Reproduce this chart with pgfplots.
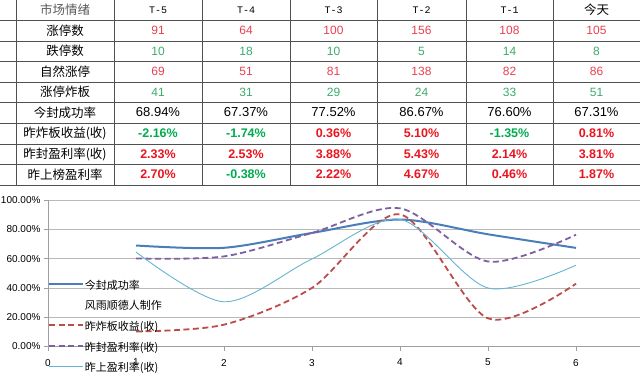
\documentclass[border=0pt]{standalone}
\usepackage{fontspec}
\setmainfont{Liberation Sans}
\newfontfamily\cjk{Noto Sans CJK SC}
\newfontfamily\mono{Liberation Mono}
\usepackage{pgfplots}
\pgfplotsset{compat=1.18}
\definecolor{tred}{RGB}{232,64,80}
\definecolor{tgreen}{RGB}{60,170,110}
\definecolor{bred}{RGB}{235,20,30}
\definecolor{bgreen}{RGB}{0,170,80}
\definecolor{sblue}{RGB}{74,126,187}
\definecolor{sred}{RGB}{190,75,72}
\definecolor{spurple}{RGB}{125,96,160}
\definecolor{saqua}{RGB}{100,180,210}
\definecolor{tline}{RGB}{80,80,80}
\begin{document}
\begin{tikzpicture}[
  lab/.style={font=\cjk\fontsize{12.5}{14}\selectfont},
  hd/.style={font=\mono\fontsize{10}{12}\selectfont},
  num/.style={font=\fontsize{12}{14}\selectfont},
  pct/.style={font=\fontsize{13}{15}\selectfont},
  bp/.style={font=\bfseries\fontsize{12.5}{15}\selectfont}]
\path[use as bounding box] (0pt,0pt) rectangle (640pt,-377pt);
% table grid
\foreach \y in {20,41,61,82,102,123,144,164,185}
  \draw[tline, line width=0.9pt] (0pt,-\y pt) -- (640pt,-\y pt);
\foreach \x in {16,114,202,290,377,466,553}
  \draw[tline, line width=0.9pt] (\x pt,0pt) -- (\x pt,-185pt);
% header
\node[lab, text=black!65] at (65pt,-10pt) {市场情绪};
\node[hd] at (158pt,-10pt) {T-5};
\node[hd] at (246pt,-10pt) {T-4};
\node[hd] at (333.5pt,-10pt) {T-3};
\node[hd] at (421.5pt,-10pt) {T-2};
\node[hd] at (509.5pt,-10pt) {T-1};
\node[lab] at (596.5pt,-10pt) {今天};
% row labels
\node[lab] at (65pt,-30.5pt) {涨停数};
\node[lab] at (65pt,-51pt) {跌停数};
\node[lab] at (65pt,-71.5pt) {自然涨停};
\node[lab] at (65pt,-92pt) {涨停炸板};
\node[lab] at (65pt,-112.5pt) {今封成功率};
\node[lab] at (65pt,-133.5pt) {昨炸板收益(收)};
\node[lab] at (65pt,-154pt) {昨封盈利率(收)};
\node[lab] at (65pt,-174.5pt) {昨上榜盈利率};
% row 涨停数
\node[num,text=tred] at (158pt,-30.5pt) {91};
\node[num,text=tred] at (246pt,-30.5pt) {64};
\node[num,text=tred] at (333.5pt,-30.5pt) {100};
\node[num,text=tred] at (421.5pt,-30.5pt) {156};
\node[num,text=tred] at (509.5pt,-30.5pt) {108};
\node[num,text=tred] at (596.5pt,-30.5pt) {105};
% row 跌停数
\node[num,text=tgreen] at (158pt,-51pt) {10};
\node[num,text=tgreen] at (246pt,-51pt) {18};
\node[num,text=tgreen] at (333.5pt,-51pt) {10};
\node[num,text=tgreen] at (421.5pt,-51pt) {5};
\node[num,text=tgreen] at (509.5pt,-51pt) {14};
\node[num,text=tgreen] at (596.5pt,-51pt) {8};
% row 自然涨停
\node[num,text=tred] at (158pt,-71.5pt) {69};
\node[num,text=tred] at (246pt,-71.5pt) {51};
\node[num,text=tred] at (333.5pt,-71.5pt) {81};
\node[num,text=tred] at (421.5pt,-71.5pt) {138};
\node[num,text=tred] at (509.5pt,-71.5pt) {82};
\node[num,text=tred] at (596.5pt,-71.5pt) {86};
% row 涨停炸板
\node[num,text=tgreen] at (158pt,-92pt) {41};
\node[num,text=tgreen] at (246pt,-92pt) {31};
\node[num,text=tgreen] at (333.5pt,-92pt) {29};
\node[num,text=tgreen] at (421.5pt,-92pt) {24};
\node[num,text=tgreen] at (509.5pt,-92pt) {33};
\node[num,text=tgreen] at (596.5pt,-92pt) {51};
% row 今封成功率
\node[pct] at (158pt,-112.5pt) {68.94\%};
\node[pct] at (246pt,-112.5pt) {67.37\%};
\node[pct] at (333.5pt,-112.5pt) {77.52\%};
\node[pct] at (421.5pt,-112.5pt) {86.67\%};
\node[pct] at (509.5pt,-112.5pt) {76.60\%};
\node[pct] at (596.5pt,-112.5pt) {67.31\%};
% row 昨炸板收益
\node[bp,text=bgreen] at (158pt,-133.5pt) {-2.16\%};
\node[bp,text=bgreen] at (246pt,-133.5pt) {-1.74\%};
\node[bp,text=bred] at (333.5pt,-133.5pt) {0.36\%};
\node[bp,text=bred] at (421.5pt,-133.5pt) {5.10\%};
\node[bp,text=bgreen] at (509.5pt,-133.5pt) {-1.35\%};
\node[bp,text=bred] at (596.5pt,-133.5pt) {0.81\%};
% row 昨封盈利率
\node[bp,text=bred] at (158pt,-154pt) {2.33\%};
\node[bp,text=bred] at (246pt,-154pt) {2.53\%};
\node[bp,text=bred] at (333.5pt,-154pt) {3.88\%};
\node[bp,text=bred] at (421.5pt,-154pt) {5.43\%};
\node[bp,text=bred] at (509.5pt,-154pt) {2.14\%};
\node[bp,text=bred] at (596.5pt,-154pt) {3.81\%};
% row 昨上榜盈利率
\node[bp,text=bred] at (158pt,-174.5pt) {2.70\%};
\node[bp,text=bgreen] at (246pt,-174.5pt) {-0.38\%};
\node[bp,text=bred] at (333.5pt,-174.5pt) {2.22\%};
\node[bp,text=bred] at (421.5pt,-174.5pt) {4.67\%};
\node[bp,text=bred] at (509.5pt,-174.5pt) {0.46\%};
\node[bp,text=bred] at (596.5pt,-174.5pt) {1.87\%};
% chart
\begin{axis}[
  at={(48pt,-346.5pt)}, anchor=south west,
  scale only axis, width=592pt, height=146.5pt,
  xmin=0, xmax=6.727, ymin=0, ymax=100,
  axis lines=left,
  axis line style={-, draw=gray!75, line width=0.8pt},
  xtick={0,1,2,3,4,5,6}, xticklabels={0,1,2,3,4,5,6},
  ytick={0,20,40,60,80,100},
  yticklabels={0.00\%,20.00\%,40.00\%,60.00\%,80.00\%,100.00\%},
  ymajorgrids, grid style={gray!55, line width=0.8pt},
  tick align=outside, major tick length=4pt,
  tick style={gray!75, line width=0.8pt},
  ticklabel style={font=\fontsize{10}{12}\selectfont},
  xticklabel style={yshift=-5pt},
  legend cell align=left,
  legend image code/.code={\draw[#1] (0pt,2.5pt) -- (34pt,2.5pt);},
  legend style={at={(rel axis cs:0,0.447)}, anchor=north west,
    draw=none, fill=none, inner sep=0pt, outer sep=0pt,
    row sep=10.2pt, column sep=1pt,
    font=\cjk\fontsize{11}{13}\selectfont,
    nodes={inner sep=0pt, text height=8pt, text depth=2.5pt}},
]
\addplot[sblue, line width=2pt, smooth] coordinates
  {(1,68.94) (2,67.37) (3,77.52) (4,86.67) (5,76.60) (6,67.31)};
\addlegendentry{今封成功率}
\addlegendimage{empty legend}
\addlegendentry{风雨顺德人制作}
\addplot[sred, line width=1.8pt, dash pattern=on 6pt off 3.5pt, smooth] coordinates
  {(1,10.2) (2,14.9) (3,40.0) (4,90.2) (5,19.2) (6,42.9)};
\addlegendentry{昨炸板收益(收)}
\addplot[spurple, line width=1.8pt, dash pattern=on 6pt off 3.5pt, smooth] coordinates
  {(1,60.1) (2,61.5) (3,77.5) (4,94.3) (5,58.0) (6,76.3)};
\addlegendentry{昨封盈利率(收)}
\addplot[saqua, line width=0.9pt, smooth] coordinates
  {(1,64.5) (2,30.5) (3,59.8) (4,86.8) (5,39.9) (6,55.5)};
\addlegendentry{昨上盈利率(收)}
\end{axis}
\end{tikzpicture}
\end{document}
